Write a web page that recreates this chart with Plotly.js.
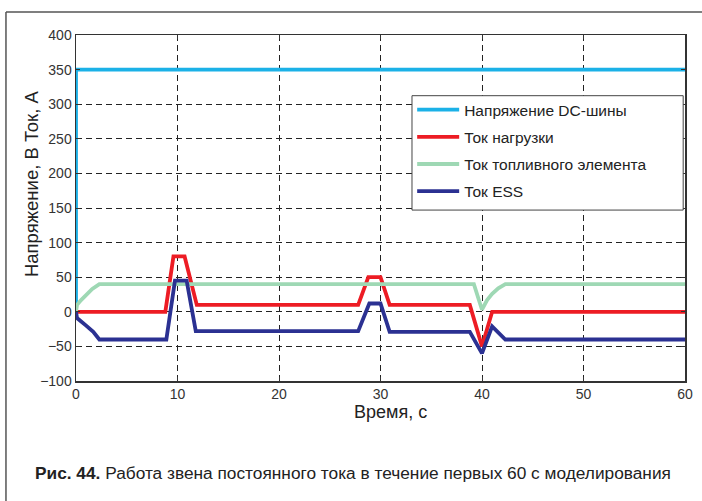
<!DOCTYPE html>
<html>
<head>
<meta charset="utf-8">
<script src="https://cdn.plot.ly/plotly-3.0.1.min.js"></script>
<style>html,body{margin:0;padding:0;background:#fff;}#chart{width:702px;height:501px;}</style>
</head>
<body>
<div id="chart"></div>
<script>
// Series names
const seriesNames = ["Напряжение DC-шины", "Ток нагрузки", "Ток топливного элемента", "Ток ESS"];
const seriesColors = ["#1bb1e7", "#ed1c24", "#9ed8b4", "#2b3192"];

// DC bus voltage
const tBus = [0, 0, 60];
const vBus = [0, 350, 350];

// Load current
const tLoad = [0, 8.8, 9.6, 10.7, 11.9, 27.8, 28.8, 30.0, 30.9, 38.8, 40.0, 41.0, 60];
const iLoad = [0, 0, 80, 80, 10, 10, 50, 50, 10, 10, -50, 0, 0];

// Fuel cell current
const tFc = [0, 0.1, 0.5, 1.0, 1.6, 2.3, 39.2, 40.0, 40.5, 41.0, 41.6, 42.3, 60];
const iFc = [0, 10, 17, 25, 33, 40, 40, 3, 17, 26, 34, 40, 40];

// ESS current
const tEss = [0, 0.1, 1.0, 1.7, 2.3, 8.9, 9.75, 10.9, 11.8, 27.8, 28.9, 30.0, 30.9, 38.8, 40.0, 41.0, 42.3, 60];
const iEss = [0, -9, -20, -29, -40, -40, 45, 45, -28, -28, 12, 12, -29, -29, -60, -21, -40, -40];

// Axis ticks and titles
const xTicks = [0, 10, 20, 30, 40, 50, 60];
const yTicks = [-100, -50, 0, 50, 100, 150, 200, 250, 300, 350, 400];
const yTickText = ["\u2212100", "\u221250", "0", "50", "100", "150", "200", "250", "300", "350", "400"];
const xTitle = "Время, с";
const yTitle = "Напряжение, В Ток, А";
const caption = "<b>Рис. 44.</b> Работа звена постоянного тока в течение первых 60 с моделирования";

const xs = [tBus, tLoad, tFc, tEss];
const ys = [vBus, iLoad, iFc, iEss];

const traces = xs.map((x, i) => ({
  x: x, y: ys[i], type: "scatter", mode: "lines",
  name: seriesNames[i], legendgroup: "g" + i,
  line: {color: seriesColors[i], width: 3.8, shape: "linear"},
  hoverinfo: "skip"
}));

const fontFam = "'Liberation Sans', Arial, sans-serif";

const layout = {
  width: 702, height: 501,
  margin: {l: 76, r: 17, t: 35, b: 120},
  paper_bgcolor: "#ffffff", plot_bgcolor: "#ffffff",
  showlegend: true,
  font: {family: fontFam, color: "#222"},
  xaxis: {
    range: [0, 60], tickvals: xTicks, ticktext: xTicks.map(String),
    showgrid: true, gridcolor: "#222", griddash: "6px,4px", gridwidth: 1,
    zeroline: false, showline: true, linecolor: "#333", linewidth: 1.5, mirror: "ticks",
    ticks: "inside", ticklen: 4, tickcolor: "#333",
    tickfont: {family: fontFam, size: 14, color: "#333"}
  },
  yaxis: {
    range: [-100, 400], tickvals: yTicks, ticktext: yTickText,
    showgrid: true, gridcolor: "#222", griddash: "6px,4px", gridwidth: 1,
    zeroline: false, showline: true, linecolor: "#333", linewidth: 1.5, mirror: "ticks",
    ticks: "inside", ticklen: 4, tickcolor: "#333",
    tickfont: {family: fontFam, size: 14, color: "#333"}
  },
  legend: {
    x: 0.552, y: 0.832, xanchor: "left", yanchor: "top",
    bgcolor: "rgba(0,0,0,0)", borderwidth: 0,
    font: {family: fontFam, size: 15.5, color: "#222"},
    traceorder: "grouped", tracegroupgap: 4, itemwidth: 42
  },
  shapes: [
    // legend box
    {type: "rect", xref: "paper", yref: "paper", layer: "above", x0: 0.5517, x1: 0.997, y0: 0.494, y1: 0.8246,
     fillcolor: "#ffffff", line: {color: "#444", width: 1}},
    // figure frame
    {type: "line", xref: "paper", yref: "paper", x0: -0.115, x1: -0.115, y0: 1.0665, y1: -0.36, line: {color: "#555", width: 1.5}},
    {type: "line", xref: "paper", yref: "paper", x0: -0.115, x1: 1.03, y0: 1.0665, y1: 1.0665, line: {color: "#555", width: 1.5}}
  ],
  annotations: [
    {xref: "paper", yref: "paper", x: 0.5156, y: -0.0896, xanchor: "center", yanchor: "middle", showarrow: false,
     text: xTitle, font: {family: fontFam, size: 18, color: "#222"}},
    {xref: "paper", yref: "paper", x: -0.0739, y: 0.572, xanchor: "center", yanchor: "middle", showarrow: false,
     textangle: -90, text: yTitle, font: {family: fontFam, size: 18.5, color: "#222"}},
    {xref: "paper", yref: "paper", x: 0.455, y: -0.266, xanchor: "center", yanchor: "middle", showarrow: false,
     text: caption,
     font: {family: "'Liberation Sans Narrow', 'Liberation Sans', Arial, sans-serif", size: 17.3, color: "#222"}}
  ]
};

Plotly.newPlot("chart", traces, layout, {displayModeBar: false, staticPlot: true});
</script>
</body>
</html>
